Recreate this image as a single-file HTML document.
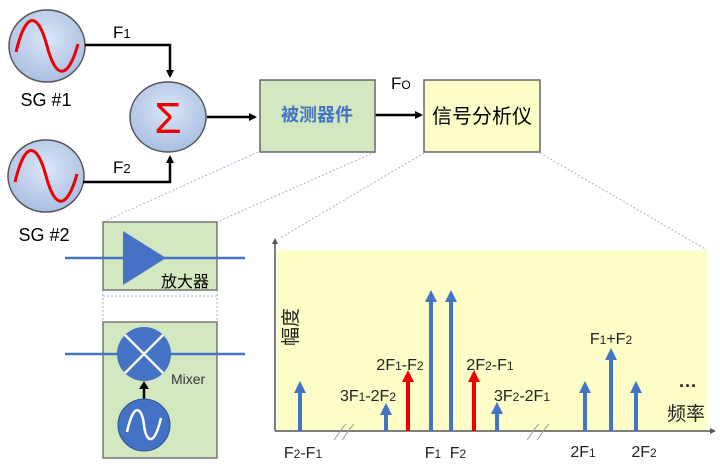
<!DOCTYPE html>
<html><head><meta charset="utf-8"><style>
body{margin:0;background:#fff;width:720px;height:470px;overflow:hidden}
text{font-family:"Liberation Sans","Noto Sans CJK SC",sans-serif}
</style></head><body>
<svg width="720" height="470" viewBox="0 0 720 470" xmlns="http://www.w3.org/2000/svg">
<defs>
<radialGradient id="cg" cx="50%" cy="40%" r="60%"><stop offset="0" stop-color="#dce6f7"/><stop offset="1" stop-color="#a9bfe3"/></radialGradient>
<marker id="ak" markerWidth="8" markerHeight="8" refX="6" refY="4" orient="auto" markerUnits="userSpaceOnUse"><path d="M0,0 L8,4 L0,8 z" fill="#000"/></marker>
</defs>
<!-- dotted guide lines -->
<g stroke="#9fb3d8" stroke-width="1" stroke-dasharray="2,2" fill="none">
<line x1="258" y1="152" x2="103" y2="222"/><line x1="375" y1="152" x2="217" y2="222"/>
<line x1="424" y1="153" x2="280" y2="238"/><line x1="540" y1="153" x2="707" y2="250"/>
<line x1="103" y1="290" x2="103" y2="322"/><line x1="217" y1="290" x2="217" y2="322"/>
<line x1="103" y1="296" x2="217" y2="296"/>
</g>
<!-- SG circles -->
<g stroke="#555" stroke-width="1.5">
<ellipse cx="47" cy="46" rx="38" ry="36" fill="url(#cg)"/>
<ellipse cx="46" cy="176" rx="38" ry="36" fill="url(#cg)"/>
<ellipse cx="168" cy="117" rx="38" ry="35" fill="url(#cg)"/>
</g>
<path d="M16,52 C26,10 38,12 47,46 C56,80 68,80 78,44" stroke="#e00" stroke-width="3" fill="none"/>
<path d="M15,182 C25,140 37,142 46,176 C55,210 67,210 77,174" stroke="#e00" stroke-width="3" fill="none"/>
<text x="168" y="133" font-size="44" fill="#e00" text-anchor="middle" font-family="Liberation Sans">Σ</text>
<text x="46" y="106" font-size="18" text-anchor="middle">SG #1</text>
<text x="44" y="241" font-size="18" text-anchor="middle">SG #2</text>
<!-- connectors -->
<g stroke="#000" stroke-width="2.5" fill="none">
<polyline points="85,45 170,45 170,76" marker-end="url(#ak)"/>
<polyline points="83,182 170,182 170,157" marker-end="url(#ak)"/>
<line x1="207" y1="117" x2="255" y2="117" marker-end="url(#ak)"/>
<line x1="375" y1="115" x2="421" y2="115" marker-end="url(#ak)"/>
</g>
<text x="113" y="38" font-size="17">F<tspan font-size="13">1</tspan></text>
<text x="113" y="173" font-size="17">F<tspan font-size="13">2</tspan></text>
<text x="391" y="89" font-size="17">F<tspan font-size="12">O</tspan></text>
<!-- boxes -->
<rect x="260" y="80" width="115" height="72" fill="#d3e8c0" stroke="#666" stroke-width="1.5"/>
<text x="317" y="121" font-size="18" font-weight="bold" fill="#4472c4" text-anchor="middle">被测器件</text>
<rect x="424" y="80" width="116" height="72" fill="#fdfdc8" stroke="#666" stroke-width="1.5"/>
<text x="482" y="123" font-size="20" text-anchor="middle">信号分析仪</text>
<!-- amp box -->
<rect x="103" y="222" width="114" height="68" fill="#d3e8c0" stroke="#777" stroke-width="1.5"/>
<line x1="65" y1="258" x2="245" y2="258" stroke="#4472c4" stroke-width="2.5"/>
<polygon points="123,231 166,258 123,285" fill="#4472c4"/>
<text x="185" y="287" font-size="16" text-anchor="middle">放大器</text>
<!-- mixer box -->
<rect x="103" y="322" width="114" height="136" fill="#d3e8c0" stroke="#777" stroke-width="1.5"/>
<line x1="65" y1="354" x2="245" y2="354" stroke="#4472c4" stroke-width="2.5"/>
<circle cx="144" cy="354" r="27" fill="#4472c4"/>
<g stroke="#fff" stroke-width="2.5"><line x1="125" y1="335" x2="163" y2="373"/><line x1="163" y1="335" x2="125" y2="373"/></g>
<text x="171" y="384" font-size="14" fill="#333">Mixer</text>
<line x1="144" y1="399" x2="144" y2="388" stroke="#000" stroke-width="2.5"/>
<polygon points="139,389 149,389 144,381" fill="#000"/>
<circle cx="144" cy="425" r="26" fill="#4472c4" stroke="#2f528f" stroke-width="1"/>
<path d="M127,432 C134,400 142,408 144,425 C146,442 154,448 161,418" stroke="#fff" stroke-width="2.5" fill="none"/>
<!-- chart -->
<rect x="277" y="250" width="430" height="181" fill="#fdfdc8"/>
<line x1="275" y1="431" x2="712" y2="431" stroke="#555" stroke-width="1.5"/>
<line x1="275" y1="431" x2="275" y2="242" stroke="#555" stroke-width="1.5"/>
<polygon points="272,244 278,244 275,238" fill="#555"/>
<polygon points="710,428 710,434 716,431" fill="#555"/>
<g stroke="#999" stroke-width="1" fill="none">
<path d="M334,440 C338,435 340,430 346,424"/><path d="M342,440 C346,435 348,430 354,424"/>
<path d="M527,440 C531,435 533,430 539,424"/><path d="M537,440 C541,435 543,430 549,424"/>
</g>
<g stroke-width="4">
<line x1="300" y1="431" x2="300" y2="392" stroke="#4472c4"/>
<line x1="386" y1="431" x2="386" y2="414" stroke="#4472c4"/>
<line x1="408" y1="431" x2="408" y2="381" stroke="#e00"/>
<line x1="431" y1="431" x2="431" y2="301" stroke="#4472c4"/>
<line x1="451" y1="431" x2="451" y2="301" stroke="#4472c4"/>
<line x1="474" y1="431" x2="474" y2="381" stroke="#e00"/>
<line x1="497" y1="431" x2="497" y2="413" stroke="#4472c4"/>
<line x1="585" y1="431" x2="585" y2="392" stroke="#4472c4"/>
<line x1="611" y1="431" x2="611" y2="359" stroke="#4472c4"/>
<line x1="636" y1="431" x2="636" y2="392" stroke="#4472c4"/>
</g>
<g fill="#4472c4">
<polygon points="294,393 306,393 300,381"/>
<polygon points="380,415 392,415 386,403"/>
<polygon points="425,302 437,302 431,290"/>
<polygon points="445,302 457,302 451,290"/>
<polygon points="491,414 503,414 497,402"/>
<polygon points="579,393 591,393 585,381"/>
<polygon points="605,360 617,360 611,348"/>
<polygon points="630,393 642,393 636,381"/>
</g>
<g fill="#e00">
<polygon points="402,382 414,382 408,370"/>
<polygon points="468,382 480,382 474,370"/>
</g>
<g font-size="16" fill="#222">
<text x="303" y="458" text-anchor="middle">F<tspan font-size="12">2</tspan>-F<tspan font-size="12">1</tspan></text>
<text x="368" y="401" text-anchor="middle">3F<tspan font-size="12">1</tspan>-2F<tspan font-size="12">2</tspan></text>
<text x="400" y="370" text-anchor="middle">2F<tspan font-size="12">1</tspan>-F<tspan font-size="12">2</tspan></text>
<text x="490" y="370" text-anchor="middle">2F<tspan font-size="12">2</tspan>-F<tspan font-size="12">1</tspan></text>
<text x="522" y="401" text-anchor="middle">3F<tspan font-size="12">2</tspan>-2F<tspan font-size="12">1</tspan></text>
<text x="433" y="458" text-anchor="middle">F<tspan font-size="12">1</tspan></text>
<text x="458" y="458" text-anchor="middle">F<tspan font-size="12">2</tspan></text>
<text x="611" y="344" text-anchor="middle">F<tspan font-size="12">1</tspan>+F<tspan font-size="12">2</tspan></text>
<text x="583" y="457" text-anchor="middle">2F<tspan font-size="12">1</tspan></text>
<text x="644" y="457" text-anchor="middle">2F<tspan font-size="12">2</tspan></text>
</g>
<text x="688" y="392" font-size="18" font-weight="bold" text-anchor="middle" fill="#222">···</text>
<text x="686" y="420" font-size="19" text-anchor="middle" fill="#222">频率</text>
<text transform="translate(297,327) rotate(-90)" font-size="19" text-anchor="middle" fill="#222">幅度</text>
</svg>
</body></html>
